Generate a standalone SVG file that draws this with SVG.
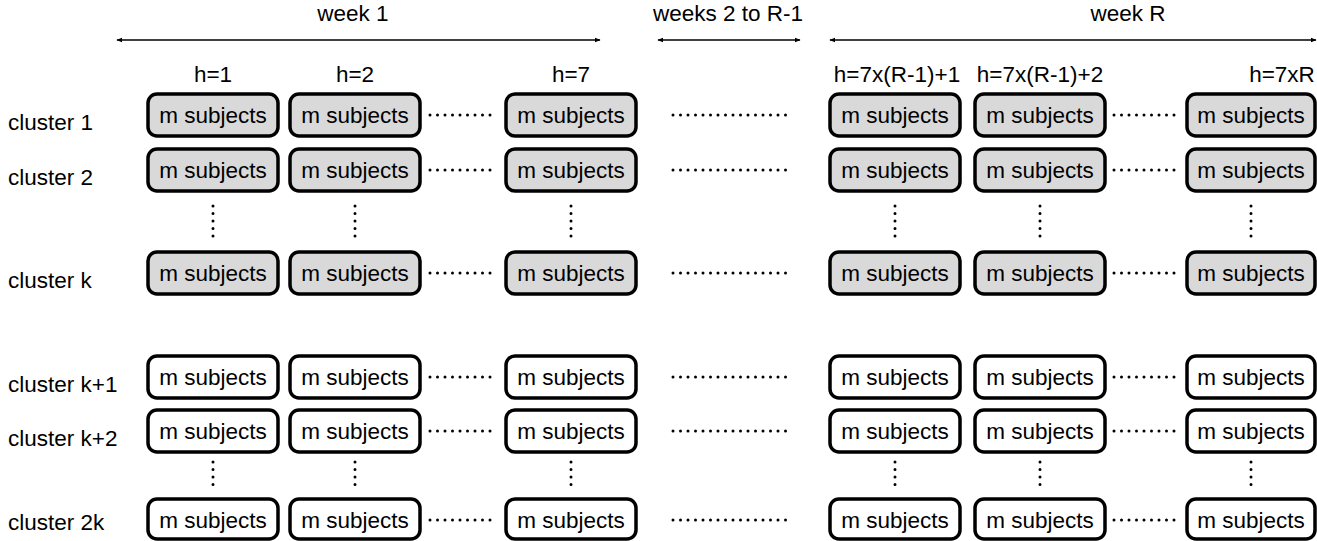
<svg xmlns="http://www.w3.org/2000/svg" width="1317" height="541" viewBox="0 0 1317 541">
<defs>
<marker id="ah" viewBox="0 0 10 10" refX="9" refY="5" markerWidth="6" markerHeight="6" orient="auto-start-reverse" markerUnits="userSpaceOnUse">
<path d="M0,1 L10,5 L0,9 Z" fill="#000"/>
</marker>
<style>
text{font-family:"Liberation Sans",Arial,sans-serif;font-size:22.5px;fill:#000}
.c{text-anchor:middle}
.box{stroke:#000;stroke-width:3.5;rx:9;ry:9}
.g{fill:#d9d9d9}
.w{fill:#fff}
.dots{stroke:#000;stroke-width:3;stroke-linecap:round;stroke-dasharray:0 7.5;fill:none}
.arr{stroke:#000;stroke-width:1.5;fill:none}
</style>
</defs>
<rect width="1317" height="541" fill="#fff"/>

<g id="headers">
<text class="c" x="353" y="21">week 1</text>
<text class="c" x="728" y="21">weeks 2 to R-1</text>
<text class="c" x="1128" y="21">week R</text>
<text class="c" x="213" y="82">h=1</text>
<text class="c" x="355" y="82">h=2</text>
<text class="c" x="571" y="82">h=7</text>
<text class="c" x="897" y="82">h=7x(R-1)+1</text>
<text class="c" x="1040" y="82">h=7x(R-1)+2</text>
<text class="c" x="1282" y="82">h=7xR</text>
</g>

<g id="row-labels">
<text x="8" y="130">cluster 1</text>
<text x="8" y="185">cluster 2</text>
<text x="8" y="288">cluster k</text>
<text x="8" y="392">cluster k+1</text>
<text x="8" y="446">cluster k+2</text>
<text x="8" y="530">cluster 2k</text>
</g>

<g id="connectors">
<line class="arr" x1="117" y1="40" x2="600" y2="40" marker-start="url(#ah)" marker-end="url(#ah)"/>
<line class="arr" x1="658" y1="40" x2="800" y2="40" marker-start="url(#ah)" marker-end="url(#ah)"/>
<line class="arr" x1="830" y1="40" x2="1316" y2="40" marker-start="url(#ah)" marker-end="url(#ah)"/>
</g>

<g id="dots">
<g id="hdots">
<line class="dots" x1="430" y1="115" x2="497" y2="115"/>
<line class="dots" x1="430" y1="170" x2="497" y2="170"/>
<line class="dots" x1="430" y1="273" x2="497" y2="273"/>
<line class="dots" x1="430" y1="377" x2="497" y2="377"/>
<line class="dots" x1="430" y1="431" x2="497" y2="431"/>
<line class="dots" x1="430" y1="520" x2="497" y2="520"/>
<line class="dots" x1="673" y1="115" x2="793" y2="115"/>
<line class="dots" x1="673" y1="170" x2="793" y2="170"/>
<line class="dots" x1="673" y1="273" x2="793" y2="273"/>
<line class="dots" x1="673" y1="377" x2="793" y2="377"/>
<line class="dots" x1="673" y1="431" x2="793" y2="431"/>
<line class="dots" x1="673" y1="520" x2="793" y2="520"/>
<line class="dots" x1="1114" y1="115" x2="1179" y2="115"/>
<line class="dots" x1="1114" y1="170" x2="1179" y2="170"/>
<line class="dots" x1="1114" y1="273" x2="1179" y2="273"/>
<line class="dots" x1="1114" y1="377" x2="1179" y2="377"/>
<line class="dots" x1="1114" y1="431" x2="1179" y2="431"/>
<line class="dots" x1="1114" y1="520" x2="1179" y2="520"/>
</g>
<g id="vdots">
<line class="dots" x1="213" y1="206" x2="213" y2="243"/>
<line class="dots" x1="355" y1="206" x2="355" y2="243"/>
<line class="dots" x1="571" y1="206" x2="571" y2="243"/>
<line class="dots" x1="895" y1="206" x2="895" y2="243"/>
<line class="dots" x1="1040" y1="206" x2="1040" y2="243"/>
<line class="dots" x1="1251" y1="206" x2="1251" y2="243"/>
<line class="dots" x1="213" y1="462" x2="213" y2="492"/>
<line class="dots" x1="355" y1="462" x2="355" y2="492"/>
<line class="dots" x1="571" y1="462" x2="571" y2="492"/>
<line class="dots" x1="895" y1="462" x2="895" y2="492"/>
<line class="dots" x1="1040" y1="462" x2="1040" y2="492"/>
<line class="dots" x1="1251" y1="462" x2="1251" y2="492"/>
</g>
</g>

<g id="nodes">
<g id="r1">
<g id="n1-1"><rect class="box g" x="148" y="94" width="130" height="42"/><text class="c" x="213" y="123">m subjects</text></g>
<g id="n1-2"><rect class="box g" x="290" y="94" width="130" height="42"/><text class="c" x="355" y="123">m subjects</text></g>
<g id="n1-3"><rect class="box g" x="506" y="94" width="130" height="42"/><text class="c" x="571" y="123">m subjects</text></g>
<g id="n1-4"><rect class="box g" x="830" y="94" width="130" height="42"/><text class="c" x="895" y="123">m subjects</text></g>
<g id="n1-5"><rect class="box g" x="975" y="94" width="130" height="42"/><text class="c" x="1040" y="123">m subjects</text></g>
<g id="n1-6"><rect class="box g" x="1187" y="94" width="128" height="42"/><text class="c" x="1251" y="123">m subjects</text></g>
</g>
<g id="r2">
<g id="n2-1"><rect class="box g" x="148" y="149" width="130" height="42"/><text class="c" x="213" y="178">m subjects</text></g>
<g id="n2-2"><rect class="box g" x="290" y="149" width="130" height="42"/><text class="c" x="355" y="178">m subjects</text></g>
<g id="n2-3"><rect class="box g" x="506" y="149" width="130" height="42"/><text class="c" x="571" y="178">m subjects</text></g>
<g id="n2-4"><rect class="box g" x="830" y="149" width="130" height="42"/><text class="c" x="895" y="178">m subjects</text></g>
<g id="n2-5"><rect class="box g" x="975" y="149" width="130" height="42"/><text class="c" x="1040" y="178">m subjects</text></g>
<g id="n2-6"><rect class="box g" x="1187" y="149" width="128" height="42"/><text class="c" x="1251" y="178">m subjects</text></g>
</g>
<g id="r3">
<g id="n3-1"><rect class="box g" x="148" y="252" width="130" height="42"/><text class="c" x="213" y="281">m subjects</text></g>
<g id="n3-2"><rect class="box g" x="290" y="252" width="130" height="42"/><text class="c" x="355" y="281">m subjects</text></g>
<g id="n3-3"><rect class="box g" x="506" y="252" width="130" height="42"/><text class="c" x="571" y="281">m subjects</text></g>
<g id="n3-4"><rect class="box g" x="830" y="252" width="130" height="42"/><text class="c" x="895" y="281">m subjects</text></g>
<g id="n3-5"><rect class="box g" x="975" y="252" width="130" height="42"/><text class="c" x="1040" y="281">m subjects</text></g>
<g id="n3-6"><rect class="box g" x="1187" y="252" width="128" height="42"/><text class="c" x="1251" y="281">m subjects</text></g>
</g>
<g id="r4">
<g id="n4-1"><rect class="box w" x="148" y="356" width="130" height="42"/><text class="c" x="213" y="385">m subjects</text></g>
<g id="n4-2"><rect class="box w" x="290" y="356" width="130" height="42"/><text class="c" x="355" y="385">m subjects</text></g>
<g id="n4-3"><rect class="box w" x="506" y="356" width="130" height="42"/><text class="c" x="571" y="385">m subjects</text></g>
<g id="n4-4"><rect class="box w" x="830" y="356" width="130" height="42"/><text class="c" x="895" y="385">m subjects</text></g>
<g id="n4-5"><rect class="box w" x="975" y="356" width="130" height="42"/><text class="c" x="1040" y="385">m subjects</text></g>
<g id="n4-6"><rect class="box w" x="1187" y="356" width="128" height="42"/><text class="c" x="1251" y="385">m subjects</text></g>
</g>
<g id="r5">
<g id="n5-1"><rect class="box w" x="148" y="410" width="130" height="42"/><text class="c" x="213" y="439">m subjects</text></g>
<g id="n5-2"><rect class="box w" x="290" y="410" width="130" height="42"/><text class="c" x="355" y="439">m subjects</text></g>
<g id="n5-3"><rect class="box w" x="506" y="410" width="130" height="42"/><text class="c" x="571" y="439">m subjects</text></g>
<g id="n5-4"><rect class="box w" x="830" y="410" width="130" height="42"/><text class="c" x="895" y="439">m subjects</text></g>
<g id="n5-5"><rect class="box w" x="975" y="410" width="130" height="42"/><text class="c" x="1040" y="439">m subjects</text></g>
<g id="n5-6"><rect class="box w" x="1187" y="410" width="128" height="42"/><text class="c" x="1251" y="439">m subjects</text></g>
</g>
<g id="r6">
<g id="n6-1"><rect class="box w" x="148" y="499" width="130" height="40"/><text class="c" x="213" y="528">m subjects</text></g>
<g id="n6-2"><rect class="box w" x="290" y="499" width="130" height="40"/><text class="c" x="355" y="528">m subjects</text></g>
<g id="n6-3"><rect class="box w" x="506" y="499" width="130" height="40"/><text class="c" x="571" y="528">m subjects</text></g>
<g id="n6-4"><rect class="box w" x="830" y="499" width="130" height="40"/><text class="c" x="895" y="528">m subjects</text></g>
<g id="n6-5"><rect class="box w" x="975" y="499" width="130" height="40"/><text class="c" x="1040" y="528">m subjects</text></g>
<g id="n6-6"><rect class="box w" x="1187" y="499" width="128" height="40"/><text class="c" x="1251" y="528">m subjects</text></g>
</g>
</g>
</svg>
